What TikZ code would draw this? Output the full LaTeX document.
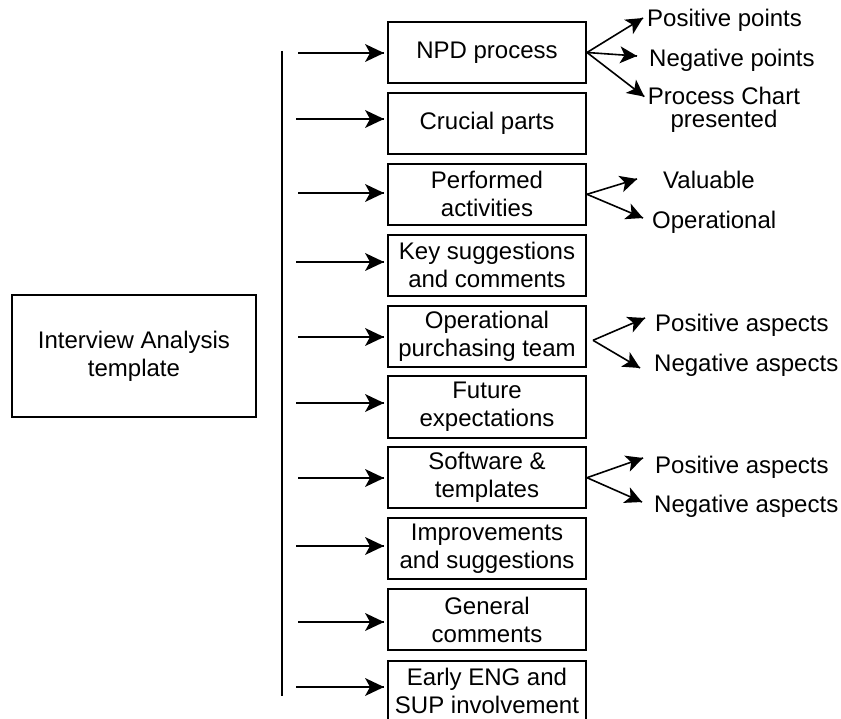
\documentclass[tikz,border=0pt]{standalone}
\usepackage{fontspec}
\setmainfont{Liberation Sans}
\tikzset{
  % filled notched arrowhead, tip at the local origin, pointing along +x
  dart/.pic={\fill[black] (0pt,0pt) -- (-19pt,9pt) -- (-14pt,0pt) -- (-19pt,-9pt) -- cycle;},
  smalldart/.pic={\fill[black] (0pt,0pt) -- (-17pt,8.5pt) -- (-12.5pt,0pt) -- (-17pt,-8.5pt) -- cycle;},
}
\begin{document}
\begin{tikzpicture}[x=1pt,y=-1pt,
  every node/.style={font=\fontsize{24}{28}\selectfont, inner sep=0pt},
  topic/.style={draw, line width=2pt, minimum width=198pt, minimum height=61pt, align=center},
  rootbox/.style={draw, line width=2pt, minimum width=244pt, minimum height=122pt, align=center},
  leaf/.style={anchor=base west},
  arr/.style={line width=1.8pt},
  branch/.style={line width=1.6pt},
]
\useasboundingbox (0,0) rectangle (841,719);

% root box
\node[rootbox] (root) at (134,356) {Interview Analysis\\template};

% vertical spine
\coordinate (vtop) at (282,51);
\coordinate (vbot) at (282,696);
\draw[line width=1.8pt] (vtop) -- (vbot);

% topic boxes
\node[topic] (b1)  at (487,52.5)  {NPD process};
\node[topic] (b2)  at (487,123.4) {Crucial parts};
\node[topic] (b3)  at (487,194.3) {Performed\\activities};
\node[topic] (b4)  at (487,265.2) {Key suggestions\\and comments};
\node[topic] (b5)  at (487,336.3) {Operational\\purchasing team};
\node[topic] (b6)  at (487,407)   {Future\\expectations};
\node[topic] (b7)  at (487,477.7) {Software \&\\templates};
\node[topic] (b8)  at (487,548.6) {Improvements\\and suggestions};
\node[topic] (b9)  at (487,619.5) {General\\comments};
\node[topic] (b10) at (487,691)   {Early ENG and\\SUP involvement};

% arrow starts
\coordinate (s1)  at (298,53);
\coordinate (s2)  at (296,119);
\coordinate (s3)  at (298,193);
\coordinate (s4)  at (296,262);
\coordinate (s5)  at (298,337);
\coordinate (s6)  at (296,403);
\coordinate (s7)  at (298,478);
\coordinate (s8)  at (296,546);
\coordinate (s9)  at (298,622);
\coordinate (s10) at (296,687);
\foreach \i in {1,...,10}
  \draw[arr] (s\i) -- ([xshift=-3pt]s\i -| b\i.west) pic[pos=1, sloped] {dart};

% sub-item labels
\node[leaf] (pp)  at (647,27)  {Positive points};
\node[leaf] (np)  at (649,67)  {Negative points};
\node[align=center, font=\fontsize{24}{23}\selectfont] (pc) at (724,110) {Process Chart\\presented};
\node[leaf] (val) at (663,189) {Valuable};
\node[leaf] (opl) at (652,229) {Operational};
\node[leaf] (pa1) at (655,332) {Positive aspects};
\node[leaf] (na1) at (654,372) {Negative aspects};
\node[leaf] (pa2) at (655,473) {Positive aspects};
\node[leaf] (na2) at (654,512) {Negative aspects};

% branch arrows
\draw[branch] (b1.east) -- ([shift={(-4,-9)}]pp.base west) pic[pos=1, sloped] {smalldart};
\draw[branch] (b1.east) -- ([shift={(-12,-11)}]np.base west) pic[pos=1, sloped] {smalldart};
\draw[branch] (b1.east) -- ([shift={(-3.5,9.5)}]pc.north west) pic[pos=1, sloped] {smalldart};
\draw[branch] (b3.east) -- ([shift={(-26,-10)}]val.base west) pic[pos=1, sloped] {smalldart};
\draw[branch] (b3.east) -- ([shift={(-9,-11)}]opl.base west) pic[pos=1, sloped] {smalldart};
\draw[branch] ([shift={(6,4)}]b5.east) -- ([shift={(-10,-14)}]pa1.base west) pic[pos=1, sloped] {smalldart};
\draw[branch] ([shift={(6,4)}]b5.east) -- ([shift={(-14,-4)}]na1.base west) pic[pos=1, sloped] {smalldart};
\draw[branch] (b7.east) -- ([shift={(-12,-15)}]pa2.base west) pic[pos=1, sloped] {smalldart};
\draw[branch] (b7.east) -- ([shift={(-12,-10)}]na2.base west) pic[pos=1, sloped] {smalldart};
\end{tikzpicture}
\end{document}
